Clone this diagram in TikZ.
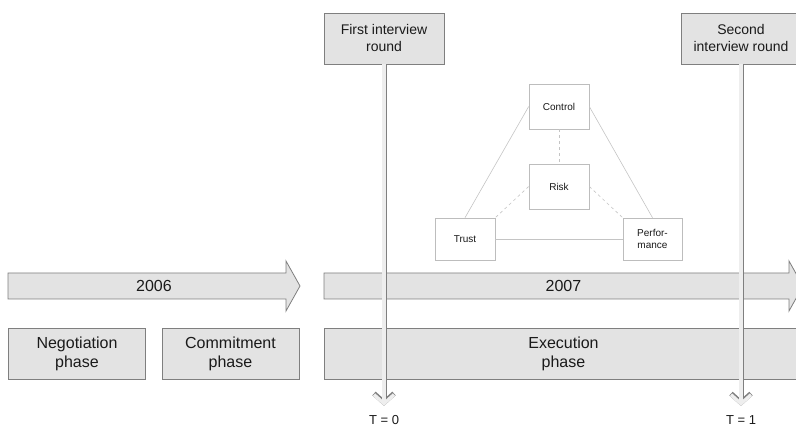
\documentclass[tikz,border=0pt]{standalone}
\usepackage{fontspec}
\setmainfont{Liberation Sans}
\usetikzlibrary{arrows.meta}

\definecolor{boxfill}{HTML}{E3E3E3}
\definecolor{boxline}{HTML}{7F7F7F}
\definecolor{smallline}{HTML}{BDBDBD}
\definecolor{linkline}{HTML}{C4C4C4}
\definecolor{txt}{HTML}{1A1A1A}

\tikzset{
  phase/.style={draw=boxline, fill=boxfill, line width=0.8pt, align=center, inner sep=0pt,
    text=txt, font=\fontsize{16}{19}\selectfont},
  interview/.style={phase, font=\fontsize{14}{17}\selectfont, minimum width=120pt, minimum height=51pt},
  factor/.style={draw=smallline, fill=white, line width=0.6pt, align=center, inner sep=0pt,
    minimum width=60pt, minimum height=45pt, text=txt, font=\fontsize{10}{12}\selectfont},
  link/.style={draw=linkline, line width=0.6pt},
  weak/.style={link, dashed},
  timeline/.style={draw=boxfill!60!white, line width=3.4pt, shorten >=6pt,
    -{Straight Barb[length=9pt, width=20pt, line width=3.4pt]},
    preaction={draw=boxline, line width=5pt, shorten >=6pt,
      -{Straight Barb[length=9pt, width=20pt, line width=5pt]}}},
  tlabel/.style={text=txt, font=\fontsize{13}{15}\selectfont}
}

\begin{document}
\begin{tikzpicture}[x=1pt, y=-1pt]
\useasboundingbox (0,0) rectangle (796,435);
\clip (0,0) rectangle (796,435);

% years
\draw[phase] (8,273) -- (286,273) -- (286,261) -- (300,286) -- (286,311) -- (286,299) -- (8,299) -- cycle;
\node[text=txt, font=\fontsize{16}{19}\selectfont] (y2006) at (154,286) {2006};
\draw[phase] (324,273) -- (789,273) -- (789,261) -- (803,286) -- (789,311) -- (789,299) -- (324,299) -- cycle;
\node[text=txt, font=\fontsize{16}{19}\selectfont] (y2007) at (563.5,286) {2007};

% phases
\node[phase, minimum width=137pt, minimum height=51pt] (nego) at (77,353.5) {Negotiation\\phase};
\node[phase, minimum width=137pt, minimum height=51pt] (commit) at (230.5,353.5) {Commitment\\phase};
\node[phase, minimum width=479pt, minimum height=51pt] (exec) at (563.5,353.5) {Execution\\phase};

% interview rounds
\node[interview] (first) at (384,38.5) {First interview\\round};
\node[interview] (second) at (741,38.5) {Second\\interview round};
\node[tlabel] (t0) at (384,420) {T = 0};
\node[tlabel] (t1) at (741,420) {T = 1};

\draw[timeline] (first) -- (t0);
\draw[timeline] (second) -- (t1);

% factors
\node[factor] (control) at (559,106.5) {Control};
\node[factor] (risk) at (559,186.5) {Risk};
\node[factor, minimum height=42pt] (trust) at (465,239) {Trust};
\node[factor, minimum height=42pt, minimum width=59pt] (perf) at (652.5,239) {Perfor-\\mance};

\draw[link] (trust.north) -- (control.west);
\draw[link] (perf.north) -- (control.east);
\draw[link] (trust) -- (perf);
\draw[weak] (control) -- (risk);
\draw[weak] (risk.west) -- (trust.north east);
\draw[weak] (risk.east) -- (perf.north west);
\end{tikzpicture}
\end{document}
